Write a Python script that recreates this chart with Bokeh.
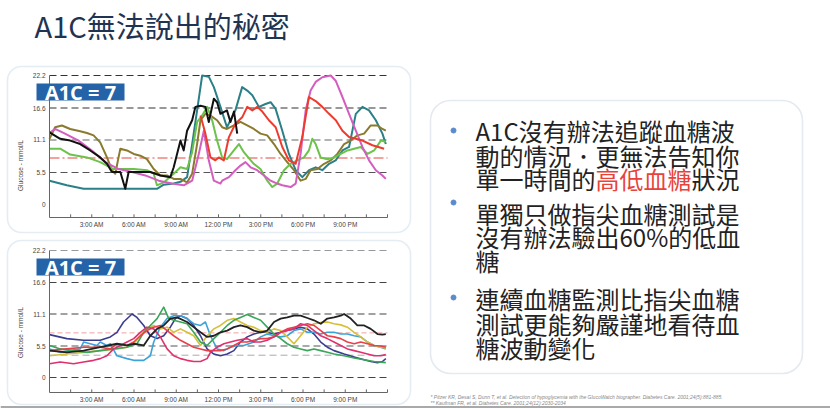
from bokeh.plotting import figure
from bokeh.models import Range1d, BoxAnnotation
from bokeh.core.properties import value
from bokeh.embed import file_html
from bokeh.resources import INLINE
import math

# ---------------- data ----------------
TITLE = "A1C無法說出的秘密"
A1C_LABEL = "A1C = 7"
Y_AXIS_TITLE = "Glucose - mmol/L"
Y_TICKS = [0, 5.5, 11.1, 16.6, 22.2]
Y_TICK_LABELS = ["0", "5.5", "11.1", "16.6", "22.2"]
X_TICKS = [3, 6, 9, 12, 15, 18, 21]
X_TICK_LABELS = ["3:00 AM", "6:00 AM", "9:00 AM", "12:00 PM", "3:00 PM", "6:00 PM", "9:00 PM"]
X_MINOR = [1.5, 3, 4.5, 6, 7.5, 9, 10.5, 12, 13.5, 15, 16.5, 18, 19.5, 21, 22.5, 24]

# chart 1 (poorly controlled day-to-day variation)
C1_TEAL_H = [0, 1.23, 2.42, 3.6, 5.98, 7.63, 8.11, 8.82, 9.3, 9.77, 10.13, 10.48, 10.84, 11.31, 11.67, 12.14, 12.6,
             13.2, 13.68, 14.04, 14.4, 14.87, 15.34, 15.7, 16.05, 16.53, 17.0, 17.48, 17.95, 18.43, 18.9, 19.37,
             19.85, 20.32, 20.8, 21.27, 21.75, 22.22, 22.69, 23.17, 23.64, 23.88]
C1_TEAL_V = [4.1, 3.3, 2.7, 2.7, 2.7, 2.7, 3.4, 3.6, 3.9, 4.7, 10.4, 16.2, 22.2, 22.0, 20.2, 16.8, 13.3,
             16.2, 20.2, 19.6, 18.8, 16.8, 17.3, 17.6, 16.5, 12.7, 8.7, 5.9, 4.7, 5.9, 6.4, 5.9,
             7.0, 7.6, 9.3, 9.9, 15.6, 16.8, 16.2, 14.5, 12.2, 10.4]
C1_OLIVE_H = [0, 0.4, 0.88, 1.47, 2.18, 2.66, 3.13, 3.6, 4.08, 4.43, 4.67, 4.86, 5.03, 5.5, 5.98, 6.45, 6.92,
              7.4, 7.87, 8.35, 8.82, 9.3, 9.77, 10.13, 10.48, 10.72, 11.07, 11.43, 11.9, 12.26, 12.6, 13.09,
              13.56, 14.04, 14.51, 14.98, 15.46, 15.94, 16.41, 16.88, 17.36, 17.83, 18.19, 18.54, 19.02,
              19.5, 19.97, 20.44, 20.92, 21.39, 21.86, 22.34, 22.81, 23.29, 23.64, 23.88]
C1_OLIVE_V = [11.3, 13.3, 13.6, 13.0, 12.6, 12.3, 11.9, 10.7, 8.1, 5.9, 5.3, 7.6, 9.6, 9.3, 8.7, 8.4, 7.8,
              6.1, 5.0, 5.0, 4.4, 4.4, 3.8, 5.3, 10.4, 14.5, 15.6, 15.3, 14.5, 13.3, 13.0, 13.6,
              14.2, 13.6, 13.0, 12.2, 11.9, 10.4, 8.7, 7.3, 5.9, 4.1, 4.4, 5.9, 6.1,
              7.0, 7.6, 8.7, 10.4, 11.0, 11.9, 12.2, 13.6, 13.6, 13.0, 12.7]
C1_GREEN_H = [0, 0.76, 1.47, 2.66, 3.6, 4.55, 5.03, 5.98, 6.92, 7.4, 7.63, 8.11, 8.82, 9.3, 9.77, 10.13, 10.48,
              10.84, 11.2, 11.55, 11.9, 12.26, 12.6, 13.09, 13.45, 13.8, 14.5, 14.98, 15.46, 15.82, 16.17,
              16.65, 17.12, 17.6, 18.07, 18.42, 18.66, 18.9, 19.25, 19.73, 20.2, 20.68, 21.16, 21.63, 22.1,
              22.58, 23.05, 23.53, 23.88]
C1_GREEN_V = [9.6, 9.6, 8.6, 8.1, 7.3, 6.1, 6.1, 6.1, 5.9, 5.3, 3.3, 3.8, 5.3, 6.4, 6.1, 9.0, 14.2,
              15.3, 16.8, 14.5, 11.0, 8.1, 7.8, 9.3, 10.4, 9.0, 7.0, 6.1, 4.1, 3.0, 3.6,
              5.9, 7.0, 7.6, 8.1, 9.3, 11.3, 10.4, 8.1, 7.8, 8.1, 8.7, 9.3, 9.6, 9.9,
              8.7, 9.3, 11.0, 10.8]
C1_MAGENTA_H = [0.05, 0.4, 1.1, 2.06, 3.01, 3.96, 4.91, 5.86, 6.8, 7.75, 8.7, 9.53, 10.13, 10.6, 10.96, 11.31,
                11.67, 12.14, 12.26, 12.74, 13.2, 13.56, 13.92, 14.28, 14.75, 15.23, 15.7, 16.17, 16.53, 17.12,
                17.48, 17.83, 18.19, 18.54, 18.9, 19.37, 19.97, 20.32, 20.8, 21.27, 21.75, 22.22, 22.69, 23.17,
                23.64, 23.88]
C1_MAGENTA_V = [12.4, 13.0, 12.2, 11.0, 9.3, 7.3, 6.1, 5.6, 5.0, 4.1, 3.6, 3.3, 4.1, 8.7, 12.7, 7.6,
                4.1, 3.6, 4.1, 4.7, 5.9, 6.7, 7.3, 6.4, 5.9, 5.0, 4.1, 3.6, 3.3, 3.0,
                3.6, 8.7, 16.2, 19.6, 21.1, 21.9, 22.2, 21.3, 18.5, 15.6, 12.7, 9.9, 7.6, 5.9,
                5.0, 4.4]
C1_RED_H = [10.72, 11.07, 11.43, 11.78, 12.02, 12.38, 12.74, 13.2, 13.68, 14.04, 14.4, 14.75, 15.11, 15.58,
            16.06, 16.53, 17.0, 17.48, 17.95, 18.42, 18.9, 19.37, 19.85, 20.33, 20.8, 21.27, 22.22, 22.93, 23.76]
C1_RED_V = [15.3, 12.2, 8.1, 7.6, 8.1, 7.6, 11.6, 13.9, 15.0, 16.8, 16.2, 16.8, 16.0, 14.5,
            13.3, 9.9, 7.6, 7.0, 11.6, 18.5, 17.8, 16.8, 15.6, 14.5, 12.7, 11.6, 11.0, 10.2, 9.6]
C1_BLACK_H = [0, 0.76, 1.47, 2.18, 2.89, 3.6, 4.08, 4.43, 5.03, 5.38, 5.62, 6.45, 7.16, 7.87, 8.58, 8.82, 9.3,
              9.53, 9.77, 10.13, 10.36, 10.72, 11.07, 11.31, 11.67, 11.9, 12.14, 12.6, 12.85, 13.1, 13.33]
C1_BLACK_V = [12.4, 11.3, 11.0, 10.4, 9.3, 8.1, 7.0, 5.6, 5.6, 2.7, 5.6, 5.6, 5.6, 5.0, 4.7, 6.4, 11.0,
              9.3, 12.7, 14.5, 16.8, 17.0, 16.8, 14.2, 18.2, 17.6, 15.6, 16.2, 14.2, 16.0, 12.2]
C1_TARGET = 8.0

# chart 2 (well controlled)
C2_NAVY_H = [0, 1.23, 2.42, 3.6, 4.32, 4.79, 5.26, 5.86, 6.21, 6.69, 7.16, 7.64, 8.11, 8.58, 8.94, 9.3, 9.77,
             10.24, 10.72, 11.19, 11.67, 12.14, 12.62, 13.09, 13.56, 14.04, 14.51, 14.99, 15.46, 15.94, 16.41,
             16.88, 17.36, 17.83, 18.31, 18.78, 19.26, 19.73, 20.2, 20.92, 21.63, 22.34, 22.81, 23.29, 23.64, 23.88]
C2_NAVY_V = [7.5, 6.8, 6.5, 6.5, 7.1, 7.9, 9.7, 11.1, 10.5, 9.1, 7.3, 6.8, 7.3, 8.8, 10.3, 10.8, 10.3,
             9.1, 7.3, 5.0, 4.1, 3.8, 4.1, 4.7, 6.2, 7.1, 7.6, 7.9, 7.9, 7.6, 7.9,
             8.2, 8.5, 8.8, 8.5, 7.6, 6.2, 5.3, 4.7, 4.1, 3.6, 3.1, 2.8, 2.6, 2.8, 3.3]
C2_CYAN_H = [0, 0.76, 1.47, 2.18, 2.42, 2.89, 3.37, 3.6, 4.08, 4.32, 4.79, 5.5, 5.98, 6.69, 7.16, 7.4, 7.87,
             8.35, 8.82, 9.3, 9.77, 10.24, 10.72, 11.07, 11.43, 11.9, 12.38, 12.85, 13.33, 13.8, 14.51,
             14.99, 15.46, 15.94, 16.41, 16.88, 17.36, 17.83, 18.31, 18.78, 19.26, 19.73, 20.2, 20.68,
             21.15, 21.63, 22.1, 22.58, 23.05, 23.52, 23.88]
C2_CYAN_V = [5.0, 4.4, 4.7, 5.0, 6.2, 5.9, 5.6, 6.2, 5.6, 5.9, 3.8, 3.3, 3.0, 3.0, 3.8, 6.2, 8.8,
             10.3, 10.8, 10.8, 10.3, 9.4, 9.1, 9.7, 7.3, 5.0, 4.7, 5.3, 5.6, 5.6, 6.2,
             7.1, 7.6, 7.3, 7.1, 7.3, 8.2, 8.5, 7.9, 7.9, 7.6, 7.9, 7.9, 7.6,
             7.6, 7.3, 7.1, 6.2, 5.6, 5.3, 5.0]
C2_YELLOW_H = [0, 1.23, 2.42, 3.6, 4.79, 5.5, 5.98, 6.45, 6.92, 7.4, 7.87, 8.35, 8.82, 9.3, 9.77, 10.24,
               10.72, 11.19, 11.67, 12.14, 12.62, 13.09, 13.56, 14.04, 14.51, 14.99, 15.46, 15.94, 16.41,
               16.88, 17.36, 17.83, 18.31, 18.78, 19.26, 19.73, 20.2, 20.68, 21.15, 21.63, 22.1, 22.58,
               23.05, 23.52, 23.88]
C2_YELLOW_V = [3.8, 4.1, 4.4, 4.7, 5.0, 5.3, 5.9, 7.3, 8.5, 9.1, 8.5, 8.8, 7.9, 8.5, 7.9, 7.3,
               5.6, 7.3, 8.5, 9.1, 10.0, 10.3, 9.7, 9.1, 8.8, 8.2, 7.9, 8.5, 8.2,
               7.1, 5.9, 7.3, 8.8, 9.4, 9.6, 9.7, 9.4, 9.2, 8.8, 7.9, 7.1, 6.2,
               5.6, 5.3, 5.1]
C2_RED_H = [0, 1.23, 2.42, 3.6, 4.32, 4.79, 5.5, 5.98, 6.45, 6.92, 7.4, 7.87, 8.35, 8.82, 9.3, 9.77, 10.24,
            10.72, 11.19, 11.67, 12.14, 12.62, 13.09, 13.56, 14.04, 14.51, 14.99, 15.46, 15.94, 16.41,
            16.88, 17.36, 17.83, 18.31, 18.78, 19.26, 19.73, 20.2, 20.68, 21.15, 21.63, 22.1, 22.58,
            23.05, 23.52, 23.88]
C2_RED_V = [4.7, 5.0, 5.3, 5.3, 5.0, 5.9, 5.6, 6.2, 7.3, 8.2, 8.8, 9.1, 8.2, 7.3, 6.5, 5.9, 5.3,
            5.0, 4.7, 4.7, 4.7, 5.0, 5.6, 6.2, 6.2, 6.5, 6.8, 6.8, 7.1, 7.9,
            8.5, 8.8, 9.1, 9.4, 9.1, 8.2, 7.3, 7.1, 6.8, 6.2, 5.9, 6.2, 5.9,
            5.6, 5.5, 5.3]
C2_PINK_H = [0, 0.76, 1.71, 2.42, 3.13, 3.6, 4.08, 4.55, 5.03, 5.5, 5.98, 6.45, 6.92, 7.4, 7.87, 8.35, 8.82,
             9.3, 9.77, 10.24, 10.72, 11.19, 11.43, 11.9, 12.38, 12.85, 13.33, 14.04, 14.51, 14.99, 15.46,
             15.94, 16.41, 16.88, 17.36, 17.83, 18.31, 18.78, 19.26, 19.73, 20.2, 20.68, 21.15, 21.63,
             22.1, 22.58, 23.05, 23.52, 23.88]
C2_PINK_V = [2.4, 2.7, 2.4, 2.7, 3.0, 3.3, 3.8, 5.0, 5.6, 6.2, 6.8, 7.9, 8.8, 8.5, 7.1, 5.0, 3.8,
             3.3, 3.0, 2.8, 2.8, 3.3, 4.4, 5.3, 5.9, 6.2, 6.5, 6.8, 6.2, 6.2, 6.5,
             7.1, 7.9, 8.2, 8.5, 9.4, 9.1, 8.2, 7.3, 6.8, 6.2, 5.6, 5.0, 4.7,
             4.4, 4.1, 3.8, 3.8, 4.0]
C2_GREEN_H = [0, 0.76, 1.71, 2.66, 3.6, 4.55, 5.5, 6.21, 6.69, 7.16, 7.64, 8.11, 8.47, 8.82, 9.3, 9.77, 10.24,
              10.72, 11.19, 11.67, 12.14, 12.62, 13.09, 13.56, 14.04, 14.51, 14.99, 15.46, 15.94, 16.41,
              16.88, 17.36, 17.83, 18.31, 18.78, 19.26, 19.73, 20.2, 20.92, 21.63, 22.34, 23.05, 23.88]
C2_GREEN_V = [5.6, 5.0, 4.7, 4.4, 4.7, 5.0, 5.3, 5.9, 7.9, 9.1, 10.3, 12.3, 10.3, 10.0, 9.7, 9.4, 7.9,
              6.2, 5.6, 6.8, 7.9, 9.1, 10.0, 10.5, 11.0, 10.5, 10.0, 8.8, 7.6, 6.8,
              5.9, 5.3, 5.0, 4.7, 5.0, 4.7, 4.4, 4.1, 3.8, 3.4, 3.1, 2.8, 2.6]
C2_BLACK_H = [0, 1.23, 2.42, 3.6, 4.79, 5.5, 5.98, 6.69, 7.16, 7.64, 8.11, 8.58, 9.06, 9.77, 10.24, 10.72,
              11.19, 11.67, 12.14, 12.62, 13.09, 13.56, 14.04, 14.51, 14.99, 15.46, 15.94, 16.41, 16.88,
              17.36, 17.83, 18.31, 18.78, 19.26, 19.73, 20.2, 20.68, 20.92, 21.39, 21.86, 22.34, 22.81,
              23.29, 23.64, 23.88]
C2_BLACK_V = [4.7, 4.4, 4.7, 5.3, 5.9, 5.6, 5.9, 5.6, 7.3, 8.5, 9.1, 10.3, 10.5, 9.7, 8.8, 7.9,
              7.1, 7.3, 7.9, 8.2, 8.8, 9.1, 8.8, 8.2, 7.9, 8.2, 9.7, 10.3, 10.5,
              10.8, 10.8, 10.4, 10.0, 9.4, 10.3, 10.5, 10.8, 11.1, 10.3, 9.1, 9.1, 8.5,
              7.6, 7.5, 7.6]
C2_TARGET_HIGH = 7.8
C2_TARGET_LOW = 3.9

BULLETS = [
    ["A1C沒有辦法追蹤血糖波", "動的情況．更無法告知你", ["單一時間的", "高低血糖", "狀況"]],
    ["單獨只做指尖血糖測試是", "沒有辦法驗出60%的低血", "糖"],
    ["連續血糖監測比指尖血糖", "測試更能夠嚴謹地看待血", "糖波動變化"],
]
FOOTNOTES = [
    "* Pitzer KR, Desai S, Dunn T, et al. Detection of hypoglycemia with the GlucoWatch biographer. Diabetes Care. 2001;24(5):881-885.",
    "** Kaufman FR, et al. Diabetes Care. 2001;24(12):2030-2034",
]

# ---------------- layout helpers (page pixels -> canvas) ----------------
W, H = 830, 408
def X(px):
    return px
def Y(py):
    return H - py

CJK = value("Noto Sans CJK TC")
SANS = value("Liberation Sans")

p = figure(width=W, height=H, x_range=Range1d(0, W), y_range=Range1d(0, H),
           output_backend="svg", toolbar_location=None, min_border=0,
           x_axis_location=None, y_axis_location=None)
p.grid.visible = False
p.outline_line_color = None
p.background_fill_color = "white"
p.border_fill_color = "white"

# title
p.text(x=[X(34)], y=[Y(24)], text=[TITLE], text_font=CJK, text_font_size="29px",
       text_color="#1f3452", text_baseline="middle", text_align="left")

# slide bottom rule
p.segment(x0=[0], y0=[Y(406.5)], x1=[W], y1=[Y(406.5)], line_color="#8c8c8c", line_width=1.5)


def chart(box, ysrc_min, y_px_min, y_px_top, series, hlines, label_box, ytitle_y):
    # rounded frame
    p.add_layout(BoxAnnotation(left=X(box[0]), right=X(box[2]), top=Y(box[1]), bottom=Y(box[3]),
                               border_radius=14, fill_alpha=0, line_color="#a8c2dc", line_width=1.6))
    xy = p.subplot(x_source=Range1d(0, 24), y_source=Range1d(ysrc_min, 22.2),
                   x_target=Range1d(X(49), X(387)), y_target=Range1d(Y(y_px_min), Y(y_px_top)))
    for yv, col, dash, lw in hlines:
        xy.segment(x0=[0], y0=[yv], x1=[24], y1=[yv], line_color=col, line_dash=dash, line_width=lw)
    for hs, vs, col, lw in series:
        xy.line(hs, vs, line_color=col, line_width=lw, line_join="round")
    # axes
    xy.segment(x0=[0, 0], y0=[ysrc_min, ysrc_min], x1=[24, 0], y1=[ysrc_min, 22.2],
               line_color="#666666", line_width=1)
    xy.segment(x0=X_MINOR, y0=[ysrc_min] * len(X_MINOR), x1=X_MINOR,
               y1=[ysrc_min + 0.55] * len(X_MINOR), line_color="#666666", line_width=1)
    xy.text(x=X_TICKS, y=[ysrc_min] * len(X_TICKS), text=X_TICK_LABELS, text_font=SANS,
            text_font_size="6.5px", text_color="#444444", text_align="center",
            text_baseline="top", y_offset=3)
    xy.text(x=[0] * len(Y_TICKS), y=Y_TICKS, text=Y_TICK_LABELS, text_font=SANS,
            text_font_size="6.5px", text_color="#444444", text_align="right",
            text_baseline="middle", x_offset=-4)
    p.text(x=[X(20)], y=[Y(ytitle_y)], text=[Y_AXIS_TITLE], angle=math.pi / 2, text_font=SANS,
           text_font_size="6.5px", text_color="#444444", text_align="center", text_baseline="middle")
    # A1C badge
    l, t, r, b = label_box
    p.quad(left=[X(l)], right=[X(r)], top=[Y(t)], bottom=[Y(b)], fill_color="#2563a8", line_color=None)
    p.text(x=[(X(l) + X(r)) / 2], y=[(Y(t) + Y(b)) / 2], text=[A1C_LABEL], text_font=value("Open Sans"),
           text_font_style="bold", text_font_size="20px", text_color="white",
           text_align="center", text_baseline="middle")


chart(box=(7, 66, 410, 232), ysrc_min=-2.24, y_px_min=217, y_px_top=75,
      series=[(C1_TEAL_H, C1_TEAL_V, "#2b8088", 2.0),
              (C1_OLIVE_H, C1_OLIVE_V, "#8a7a2e", 2.0),
              (C1_GREEN_H, C1_GREEN_V, "#6cc24a", 2.0),
              (C1_MAGENTA_H, C1_MAGENTA_V, "#d45ec0", 2.0),
              (C1_RED_H, C1_RED_V, "#ee3b2f", 2.0),
              (C1_BLACK_H, C1_BLACK_V, "#111111", 2.0)],
      hlines=[(22.2, "#333333", "7 4", 1.1), (16.6, "#333333", "7 4", 1.1),
              (11.1, "#666666", "7 4", 1.1), (5.5, "#555555", "7 4", 1.1),
              (C1_TARGET, "#e8443a", "10 3 2 3", 1.0)],
      label_box=(36, 83, 124, 100), ytitle_y=165)

chart(box=(7, 240, 410, 404), ysrc_min=-2.62, y_px_min=392, y_px_top=250,
      series=[(C2_NAVY_H, C2_NAVY_V, "#3d3d8f", 1.6),
              (C2_CYAN_H, C2_CYAN_V, "#3ba3d8", 1.6),
              (C2_YELLOW_H, C2_YELLOW_V, "#d6bf3a", 1.6),
              (C2_GREEN_H, C2_GREEN_V, "#3aa65a", 1.6),
              (C2_RED_H, C2_RED_V, "#e8404a", 1.6),
              (C2_PINK_H, C2_PINK_V, "#e0306e", 1.6),
              (C2_BLACK_H, C2_BLACK_V, "#222222", 1.8)],
      hlines=[(22.2, "#999999", "7 4", 1.1), (16.6, "#444444", "7 4", 1.1),
              (11.1, "#444444", "7 4", 1.1), (5.5, "#555555", "7 4", 1.1),
              (0, "#444444", "7 4", 1.1),
              (C2_TARGET_HIGH, "#f0a0a0", "5 3", 1.0), (C2_TARGET_LOW, "#aaaaaa", "7 4", 1.0)],
      label_box=(36, 258, 124, 275), ytitle_y=332)

# right text panel
p.add_layout(BoxAnnotation(left=X(430), right=X(802), top=Y(100), bottom=Y(373),
                           border_radius=20, fill_alpha=0, line_color="#a5b8cc", line_width=1.6))
p.scatter(x=[X(453)] * 3, y=[Y(130), Y(202), Y(297)], size=5, color="#5a8ccc")

LINE_Y = [[130, 155, 178], [213, 236, 260], [298, 323, 347]]
FS = 24
TX = X(475)
red_parts = {1: "#e8433a"}
for bi, lines in enumerate(BULLETS):
    for li, line in enumerate(lines):
        yy = Y(LINE_Y[bi][li])
        if isinstance(line, list):
            xpos = TX
            for pi, part in enumerate(line):
                p.text(x=[xpos], y=[yy], text=[part], text_font=CJK, text_font_size=f"{FS}px",
                       text_color=red_parts.get(pi, "#222222"), text_baseline="middle", text_align="left")
                xpos += FS * len(part)
        else:
            p.text(x=[TX], y=[yy], text=[line], text_font=CJK, text_font_size=f"{FS}px",
                   text_color="#222222", text_baseline="middle", text_align="left")

# footnotes
p.text(x=[X(430), X(430)], y=[Y(396), Y(402)], text=FOOTNOTES, text_font=SANS,
       text_font_style="italic", text_font_size="5px", text_color="#888888",
       text_baseline="middle", text_align="left")

open("out.html", "w").write(file_html(p, INLINE))
